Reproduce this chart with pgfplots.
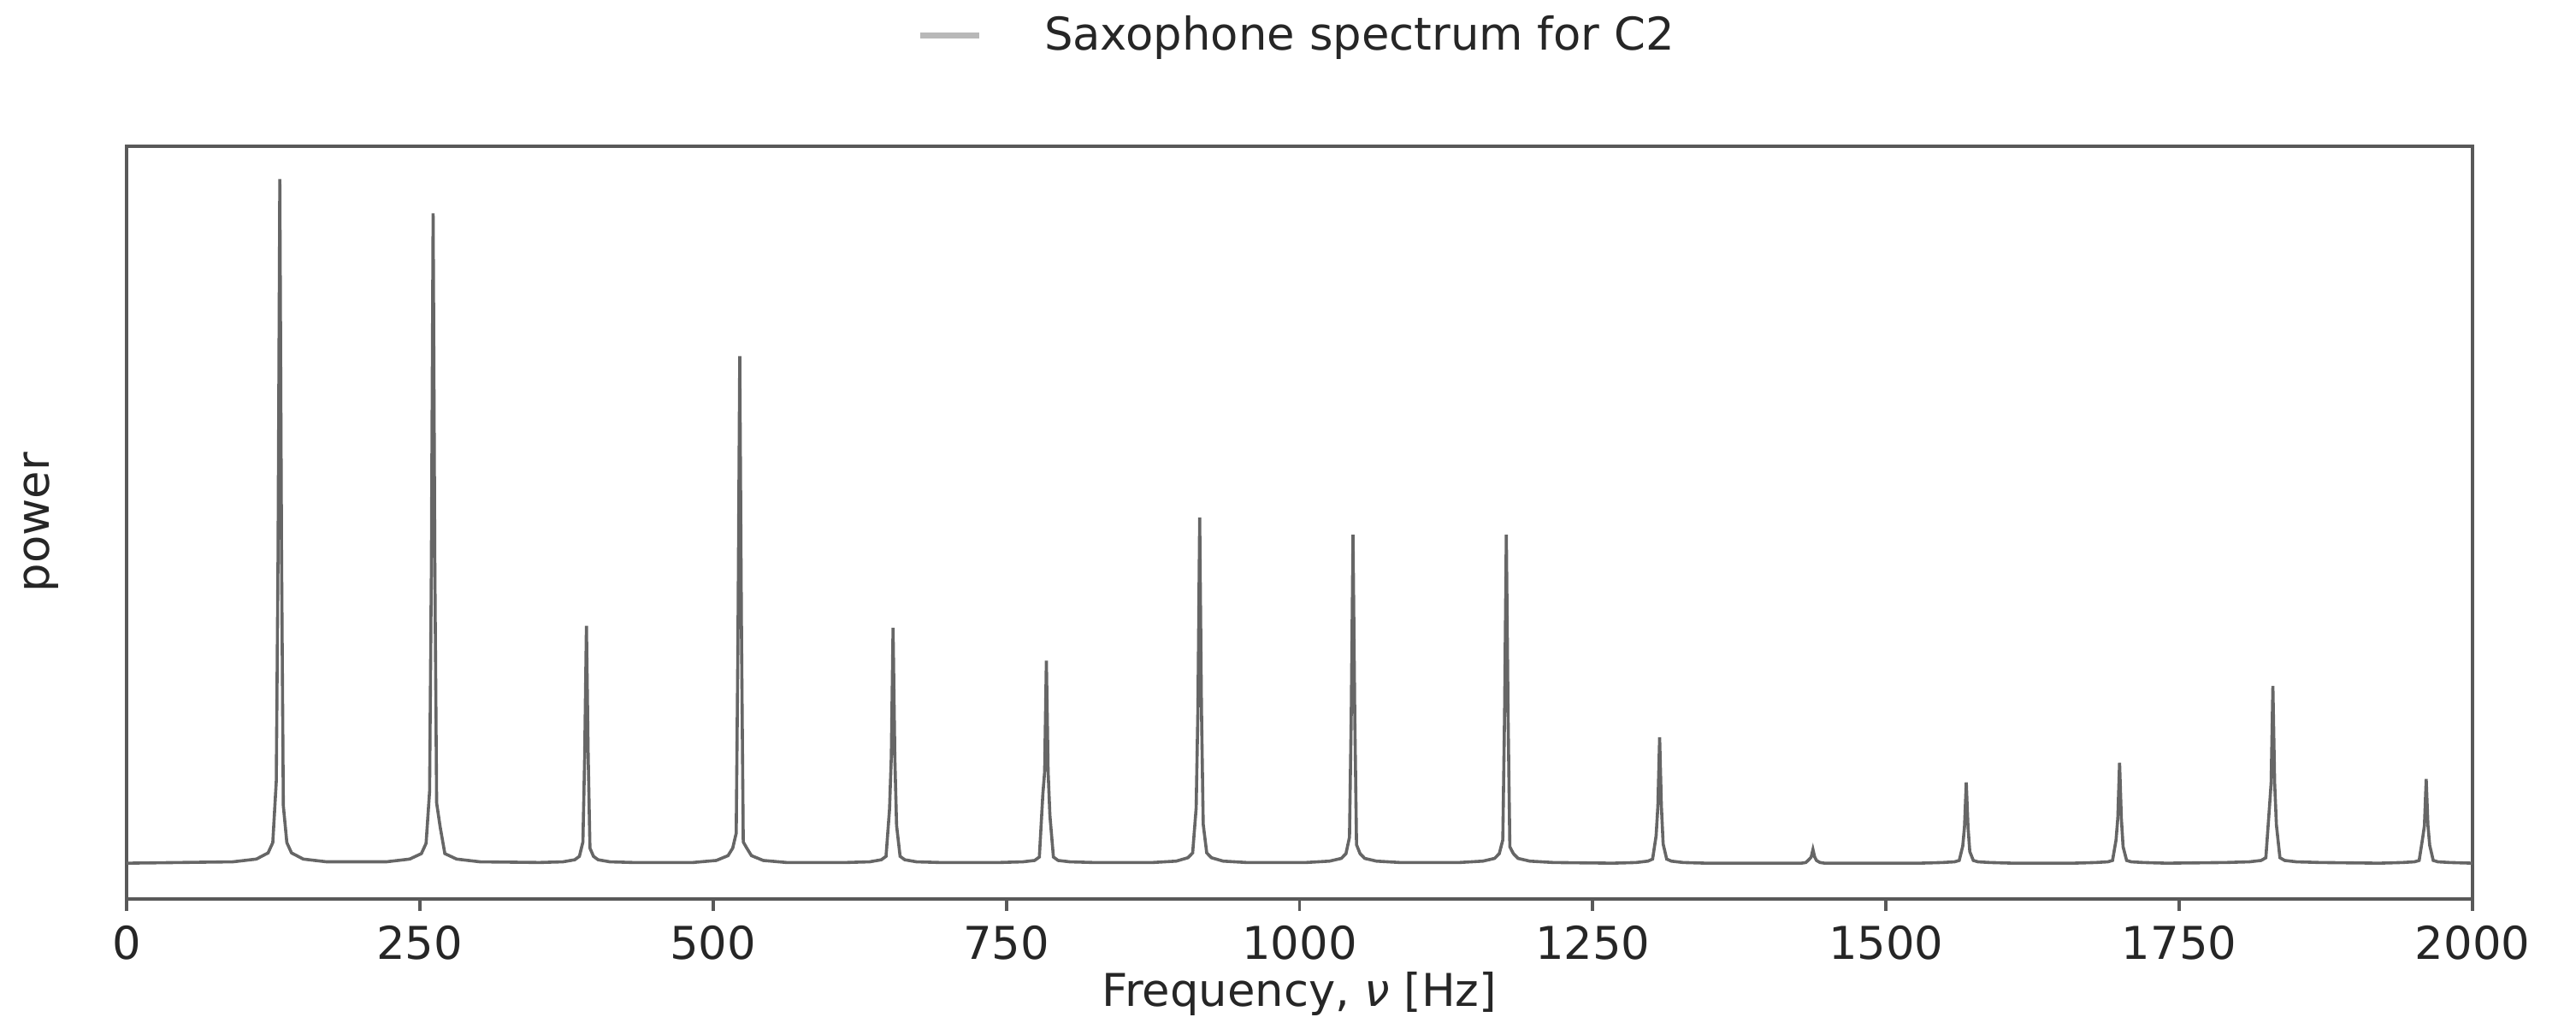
\documentclass[border=0pt]{standalone}
\usepackage{fontspec}
\setmainfont{DejaVu Sans}
\usepackage{pgfplots}
\pgfplotsset{compat=1.18}
\usepackage{pgfplotstable}
\definecolor{specline}{gray}{0.40}
\definecolor{legline}{gray}{0.72}
\definecolor{framec}{gray}{0.35}

\pgfplotstableread{
f p
0 0.2
90.7 0.4
110.7 0.8
120.7 1.7
124.7 3.2
127.7 12.2
129.2 45.2
130.7 100.2
132.2 45.2
133.7 8.6
136.7 3.2
140.7 1.7
150.7 0.8
170.7 0.4
221.4 0.4
241.4 0.8
251.4 1.6
255.4 3.1
258.4 10.7
259.9 43.0
261.4 95.2
262.9 43.0
264.4 9.0
267.4 5.5
271.4 1.6
281.4 0.8
301.4 0.4
352.1 0.3
372.1 0.4
382.1 0.7
386.1 1.2
389.1 3.3
390.6 15.8
392.1 34.9
393.6 15.8
395.1 2.4
398.1 1.2
402.1 0.7
412.1 0.4
432.1 0.3
482.8 0.3
502.8 0.6
512.8 1.3
516.8 2.4
519.8 4.6
521.3 33.5
522.8 74.3
524.3 33.5
525.8 3.3
528.8 2.4
532.8 1.3
542.8 0.6
562.8 0.3
613.5 0.3
633.5 0.4
643.5 0.7
647.5 1.2
650.5 8.1
652.0 15.7
653.5 34.6
655.0 15.7
656.5 5.7
659.5 1.2
663.5 0.7
673.5 0.4
693.5 0.3
744.2 0.3
764.2 0.4
774.2 0.6
778.2 1.1
781.2 10.3
782.7 13.5
784.2 29.8
785.7 13.5
787.2 7.2
790.2 1.1
794.2 0.6
804.2 0.4
824.2 0.3
874.9 0.3
894.9 0.5
904.9 1.0
908.9 1.7
911.9 8.3
913.4 22.9
914.9 50.7
916.4 22.9
917.9 5.9
920.9 1.7
924.9 1.0
934.9 0.5
954.9 0.3
1005.6 0.3
1025.6 0.5
1035.6 0.9
1039.6 1.6
1042.6 4.0
1044.1 21.8
1045.6 48.2
1047.1 21.8
1048.6 2.9
1051.6 1.6
1055.6 0.9
1065.6 0.5
1085.6 0.3
1136.3 0.3
1156.3 0.5
1166.3 0.9
1170.3 1.6
1173.3 3.6
1174.8 21.8
1176.3 48.2
1177.8 21.8
1179.3 2.6
1182.3 1.6
1186.3 0.9
1196.3 0.5
1216.3 0.3
1267 0.2
1287 0.3
1297 0.5
1301 0.8
1304 4.2
1305.5 8.5
1307 18.6
1308.5 8.5
1310 3.0
1313 0.8
1317 0.5
1327 0.3
1347 0.2
1397.7 0.2
1417.7 0.2
1427.7 0.2
1431.7 0.3
1434.7 0.8
1436.2 1.1
1437.7 2.2
1439.2 1.1
1440.7 0.6
1443.7 0.3
1447.7 0.2
1457.7 0.2
1477.7 0.2
1528.4 0.2
1548.4 0.3
1558.4 0.4
1562.4 0.6
1565.4 2.7
1566.9 5.5
1568.4 12.0
1569.9 5.5
1571.4 1.9
1574.4 0.6
1578.4 0.4
1588.4 0.3
1608.4 0.2
1659.1 0.2
1679.1 0.3
1689.1 0.4
1693.1 0.6
1696.1 3.6
1697.6 6.8
1699.1 14.9
1700.6 6.8
1702.1 2.6
1705.1 0.6
1709.1 0.4
1719.1 0.3
1739.1 0.2
1789.8 0.3
1809.8 0.4
1819.8 0.6
1823.8 1.0
1826.8 8.2
1828.3 11.9
1829.8 26.1
1831.3 11.9
1832.8 5.8
1835.8 1.0
1839.8 0.6
1849.8 0.4
1869.8 0.3
1920.5 0.2
1940.5 0.3
1950.5 0.4
1954.5 0.6
1957.5 3.9
1959.0 5.7
1960.5 12.5
1962.0 5.7
1963.5 2.8
1966.5 0.6
1970.5 0.4
1980.5 0.3
2000 0.2
}\spectrum

\begin{document}
\begin{tikzpicture}
\begin{axis}[
  width=571.2pt, height=183.2pt, scale only axis,
  xmin=0, xmax=2000, ymin=-5, ymax=105,
  xtick={0,250,...,2000},
  ytick=\empty,
  tick pos=left,
  tick align=outside,
  major tick length=3pt,
  tick style={framec, line width=0.8pt},
  axis line style={framec, line width=0.8pt},
  /pgf/number format/assume math mode=true,
  /pgf/number format/1000 sep={},
  xticklabel style={font=\fontsize{11}{13}\selectfont, text=black!85},
  xlabel={Frequency, \textit{ν} [Hz]},
  ylabel={power},
  xlabel style={at={(axis description cs:0.5,-0.1266)}, anchor=center, font=\fontsize{11}{13}\selectfont, text=black!85},
  ylabel style={at={(axis description cs:-0.0364,0.5)}, anchor=center, font=\fontsize{11}{13}\selectfont, text=black!85},
  legend style={at={(axis description cs:0.5,1.147)}, anchor=center, draw=none, fill=none, font=\fontsize{11}{13}\selectfont, text=black!85},
  legend cell align=left,
  legend image code/.code={\draw[legline, line width=1.6pt] (0pt,0pt) -- (14.5pt,0pt);},
]
\addplot[specline, line width=0.75pt] table[x=f, y=p] {\spectrum};
\addlegendentry{\hspace{13pt}Saxophone spectrum for C2}
\end{axis}
\pgfresetboundingbox
\useasboundingbox ([xshift=-30.8pt,yshift=-31.6pt]current axis.south west) rectangle ([xshift=25.2pt,yshift=35.6pt]current axis.north east);
\end{tikzpicture}
\end{document}
